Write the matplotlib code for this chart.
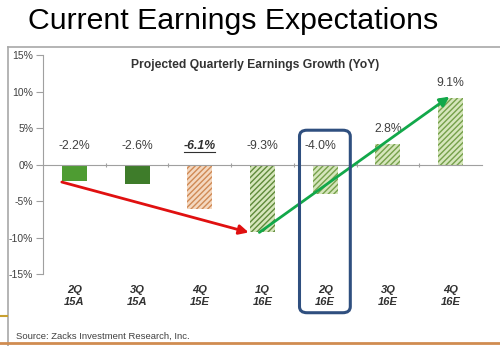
import matplotlib.pyplot as plt
import matplotlib.patches as mpatches
from matplotlib.lines import Line2D
import numpy as np

# Data
# ----------------------------------
quarters = ["2Q\n15A", "3Q\n15A", "4Q\n15E", "1Q\n16E", "2Q\n16E", "3Q\n16E", "4Q\n16E"]
growth = [-2.2, -2.6, -6.1, -9.3, -4.0, 2.8, 9.1]
value_labels = ["-2.2%", "-2.6%", "-6.1%", "-9.3%", "-4.0%", "2.8%", "9.1%"]
y_ticks = [15, 10, 5, 0, -5, -10, -15]
highlight = 4    # 2Q16E gets the rounded box
trough = 3       # 1Q16E, where the red arrow ends and the green one starts

face_colors = ["#4e9c32", "#3e7c2a", "#f4d8c0", "#d6e6bc", "#d6e6bc", "#d6e6bc", "#d6e6bc"]
hatch_colors = [None, None, "#d08a55", "#5f8a3a", "#75a04a", "#75a04a", "#75a04a"]

plt.rcParams["font.family"] = ["Liberation Sans", "DejaVu Sans"]

fig = plt.figure(figsize=(5, 3.46), dpi=100)
ax = fig.add_axes([0.086, 0.208, 0.878, 0.633])

x = np.arange(len(quarters))
width = 0.4

for i, (v, fc, hc) in enumerate(zip(growth, face_colors, hatch_colors)):
    if hc is None:
        ax.bar(x[i], v, width, color=fc, edgecolor=fc, linewidth=0)
    else:
        plt.rcParams["hatch.color"] = hc
        plt.rcParams["hatch.linewidth"] = 1.0
        ax.bar(x[i], v, width, color=fc, edgecolor=hc, hatch="//////", linewidth=0)

# value labels
for i, (v, lab) in enumerate(zip(growth, value_labels)):
    ypos = 2.5 if v < 0 else v + 2.0
    if i == 2:
        ax.text(x[i], ypos, lab, ha="center", va="center", fontsize=8.8,
                color="#303030", fontweight="bold", fontstyle="italic")
        ax.plot([x[i] - 0.25, x[i] + 0.25], [ypos - 0.8, ypos - 0.8],
                color="#303030", lw=0.8)
    else:
        dx = -0.08 if i == highlight else 0
        ax.text(x[i] + dx, ypos, lab, ha="center", va="center", fontsize=8.8,
                color="#404040")

ax.set_xlim(-0.5, 6.5)
ax.set_ylim(-15, 15)
ax.set_yticks(y_ticks)
ax.set_yticklabels([f"{t}%" for t in y_ticks], fontsize=7.5, color="#404040")
ax.tick_params(axis="y", length=5, color="#a0a0a0", pad=2)

for s in ["top", "right"]:
    ax.spines[s].set_visible(False)
ax.spines["left"].set_color("#a0a0a0")
ax.spines["bottom"].set_position(("data", 0))
ax.spines["bottom"].set_color("#a0a0a0")
ax.set_xticks(x[:-1] + 0.5)
ax.set_xticklabels([])
ax.tick_params(axis="x", length=3, direction="inout", color="#a0a0a0")

# category labels under the plot
for i, q in enumerate(quarters):
    ax.text(x[i], -0.05, q, transform=ax.get_xaxis_transform(), ha="center", va="top",
            fontsize=8, fontweight="bold", fontstyle="italic", color="#303030",
            linespacing=1.2)

# arrows
ax.annotate("", xy=(x[trough] - 0.22, growth[trough]), xytext=(-0.2, -2.4),
            arrowprops=dict(arrowstyle="-|>", color="#e01010", lw=2,
                            mutation_scale=14, shrinkA=0, shrinkB=0))
ax.annotate("", xy=(x[-1] - 0.02, growth[-1] + 0.2), xytext=(x[trough] - 0.05, growth[trough]),
            arrowprops=dict(arrowstyle="-|>", color="#12a84a", lw=2,
                            mutation_scale=14, shrinkA=0, shrinkB=0))

# rounded highlight box around 2Q16E
box = mpatches.FancyBboxPatch((x[highlight] - 0.41, -20.3), 0.81, 25.0,
                              boxstyle="round,pad=0,rounding_size=0.12",
                              mutation_aspect=7.0, fill=False,
                              edgecolor="#2f4f7f", lw=2.2, clip_on=False, zorder=5)
ax.add_patch(box)

fig.text(0.51, 0.812, "Projected Quarterly Earnings Growth (YoY)",
         ha="center", va="center", fontsize=8.7, fontweight="bold", color="#333333")
ax.set_zorder(2)
ax.patch.set_alpha(0)

# titles and frame
fig.text(0.055, 0.94, "Current Earnings Expectations", fontsize=21.8, color="black",
         ha="left", va="center")
fig.text(0.032, 0.028, "Source: Zacks Investment Research, Inc.", fontsize=6.8,
         color="#404040", ha="left", va="center")
fig.add_artist(Line2D([0.016, 1.0], [0.864, 0.864], color="#a8a8a8", lw=1.2))
fig.add_artist(Line2D([0.016, 0.016], [0.0, 0.864], color="#a8a8a8", lw=1.2))
fig.add_artist(Line2D([0, 1], [0.008, 0.008], color="#d08c50", lw=2))
fig.add_artist(Line2D([0, 0.014], [0.087, 0.087], color="#c8a030", lw=1.5))

plt.savefig("out.png", dpi=100)
